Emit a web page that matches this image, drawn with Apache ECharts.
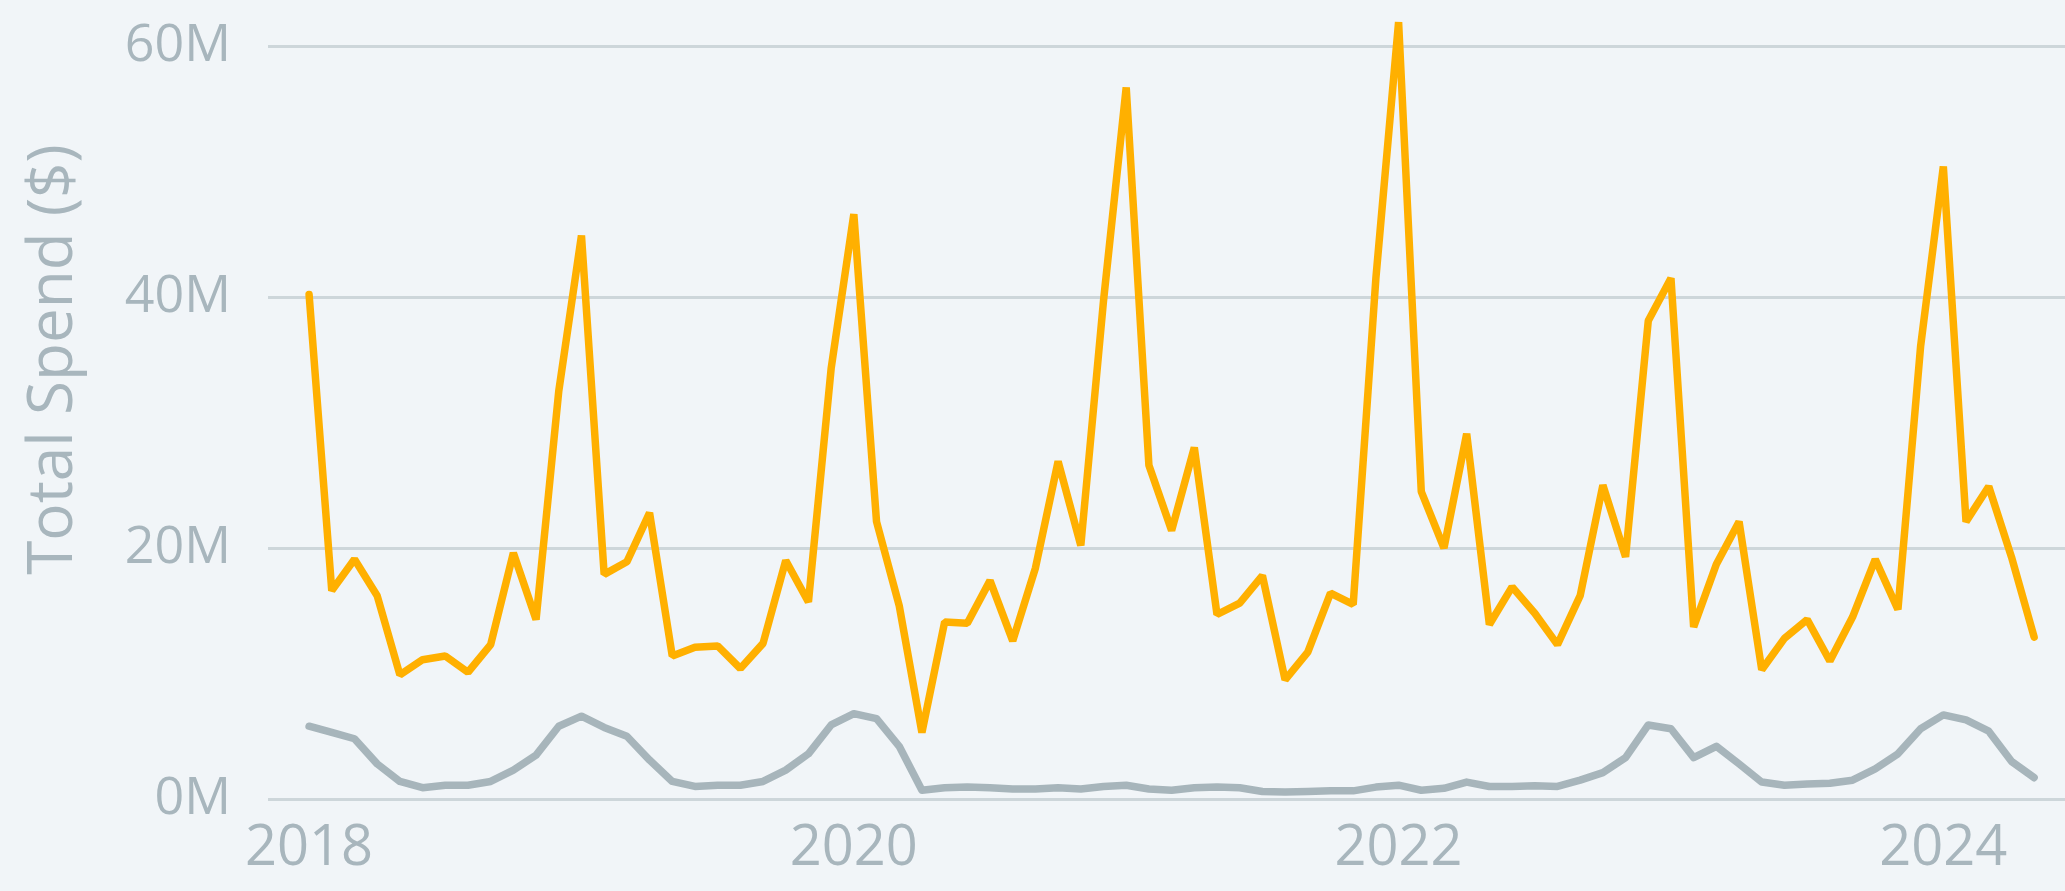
<!DOCTYPE html>
<html>
<head>
<meta charset="utf-8">
<script src="https://cdn.jsdelivr.net/npm/echarts@6/dist/echarts.min.js"></script>
<style>
html,body{margin:0;padding:0;background:#f1f5f8;}
#chart{width:2065px;height:891px;}
</style>
</head>
<body>
<div id="chart"></div>
<script>
// Monthly categories
const months = [
  '2018-01','2018-02','2018-03','2018-04','2018-05','2018-06','2018-07','2018-08','2018-09','2018-10','2018-11','2018-12',
  '2019-01','2019-02','2019-03','2019-04','2019-05','2019-06','2019-07','2019-08','2019-09','2019-10','2019-11','2019-12',
  '2020-01','2020-02','2020-03','2020-04','2020-05','2020-06','2020-07','2020-08','2020-09','2020-10','2020-11','2020-12',
  '2021-01','2021-02','2021-03','2021-04','2021-05','2021-06','2021-07','2021-08','2021-09','2021-10','2021-11','2021-12',
  '2022-01','2022-02','2022-03','2022-04','2022-05','2022-06','2022-07','2022-08','2022-09','2022-10','2022-11','2022-12',
  '2023-01','2023-02','2023-03','2023-04','2023-05','2023-06','2023-07','2023-08','2023-09','2023-10','2023-11','2023-12',
  '2024-01','2024-02','2024-03','2024-04','2024-05'
];

// Total spend, millions of dollars
const totalSpend = [
  40.2,16.6,19.1,16.2,9.9,11.1,11.4,10.1,12.3,19.6,14.3,32.5,
  44.9,17.9,18.9,22.8,11.4,12.1,12.2,10.4,12.4,19.0,15.7,34.3,
  46.6,22.1,15.4,5.3,14.1,14.0,17.4,12.6,18.4,26.9,20.2,39.7,
  56.7,26.6,21.4,28.0,14.7,15.6,17.8,9.5,11.7,16.4,15.5,41.5,
  61.9,24.5,20.0,29.1,13.9,16.9,14.8,12.3,16.2,25.0,19.3,38.1,
  41.5,13.7,18.7,22.1,10.3,12.8,14.3,11.0,14.5,19.1,15.1,36.1,
  50.4,22.1,24.9,19.3,12.9
];

// Second (grey) series, millions of dollars
const secondarySpend = [
  5.8,5.3,4.8,2.8,1.4,0.9,1.1,1.1,1.4,2.3,3.5,5.8,
  6.6,5.7,5.0,3.1,1.4,1.0,1.1,1.1,1.4,2.3,3.6,5.9,
  6.8,6.4,4.2,0.7,0.9,0.95,0.9,0.8,0.8,0.9,0.8,1.0,
  1.1,0.8,0.7,0.9,0.95,0.9,0.6,0.55,0.6,0.65,0.65,0.95,
  1.1,0.7,0.85,1.35,1.0,1.0,1.05,1.0,1.5,2.1,3.3,5.9,
  5.6,3.3,4.2,2.8,1.35,1.1,1.2,1.25,1.5,2.4,3.6,5.6,
  6.7,6.3,5.4,3.0,1.7
];

const yTickValues = [0, 20, 40, 60];
const xTickLabels = ['2018', '2020', '2022', '2024'];

const textColor = '#a8b6bd';
const fontFamily = "'Open Sans', 'Noto Sans', sans-serif";

// month offset from the first category, used as the x position
const monthIndex = m => {
  const [y, mo] = m.split('-').map(Number);
  const [y0, m0] = months[0].split('-').map(Number);
  return (y - y0) * 12 + (mo - m0);
};
const tickPositions = xTickLabels.map(y => monthIndex(y + '-01'));

const chart = echarts.init(document.getElementById('chart'), null, {renderer: 'canvas'});

const option = {
  backgroundColor: '#f1f5f8',
  animation: false,
  grid: {left: 268, right: 0, top: 46, bottom: 92},
  xAxis: {
    type: 'value',
    min: -1.81,
    max: 77.36,
    axisLine: {show: false},
    axisTick: {show: false},
    splitLine: {show: false},
    axisLabel: {
      customValues: tickPositions,
      formatter: v => {
        const k = tickPositions.indexOf(Math.round(v));
        return k >= 0 ? xTickLabels[k] : '';
      },
      color: textColor,
      fontFamily: fontFamily,
      fontSize: 56,
      margin: 22
    }
  },
  yAxis: {
    type: 'value',
    min: yTickValues[0],
    max: yTickValues[yTickValues.length - 1],
    interval: yTickValues[1] - yTickValues[0],
    name: 'Total Spend ($)',
    nameLocation: 'middle',
    nameGap: 183,
    nameTextStyle: {
      color: textColor,
      fontFamily: fontFamily,
      fontSize: 62,
      padding: [0, 0, 0, 126]
    },
    axisLine: {show: false},
    axisTick: {show: false},
    axisLabel: {
      formatter: v => v + 'M',
      color: textColor,
      fontFamily: fontFamily,
      fontSize: 52,
      margin: 37
    },
    splitLine: {lineStyle: {color: '#cdd6da', width: 3}}
  },
  series: [
    {
      name: 'Secondary',
      type: 'line',
      data: months.map((m, i) => [monthIndex(m), secondarySpend[i]]),
      showSymbol: false,
      clip: false,
      lineStyle: {color: '#a7b5bb', width: 7.5, cap: 'round', join: 'round'}
    },
    {
      name: 'Total Spend',
      type: 'line',
      data: months.map((m, i) => [monthIndex(m), totalSpend[i]]),
      showSymbol: false,
      clip: false,
      lineStyle: {color: '#ffb000', width: 7.5, cap: 'round', join: 'bevel'}
    }
  ]
};
chart.setOption(option);
</script>
</body>
</html>
